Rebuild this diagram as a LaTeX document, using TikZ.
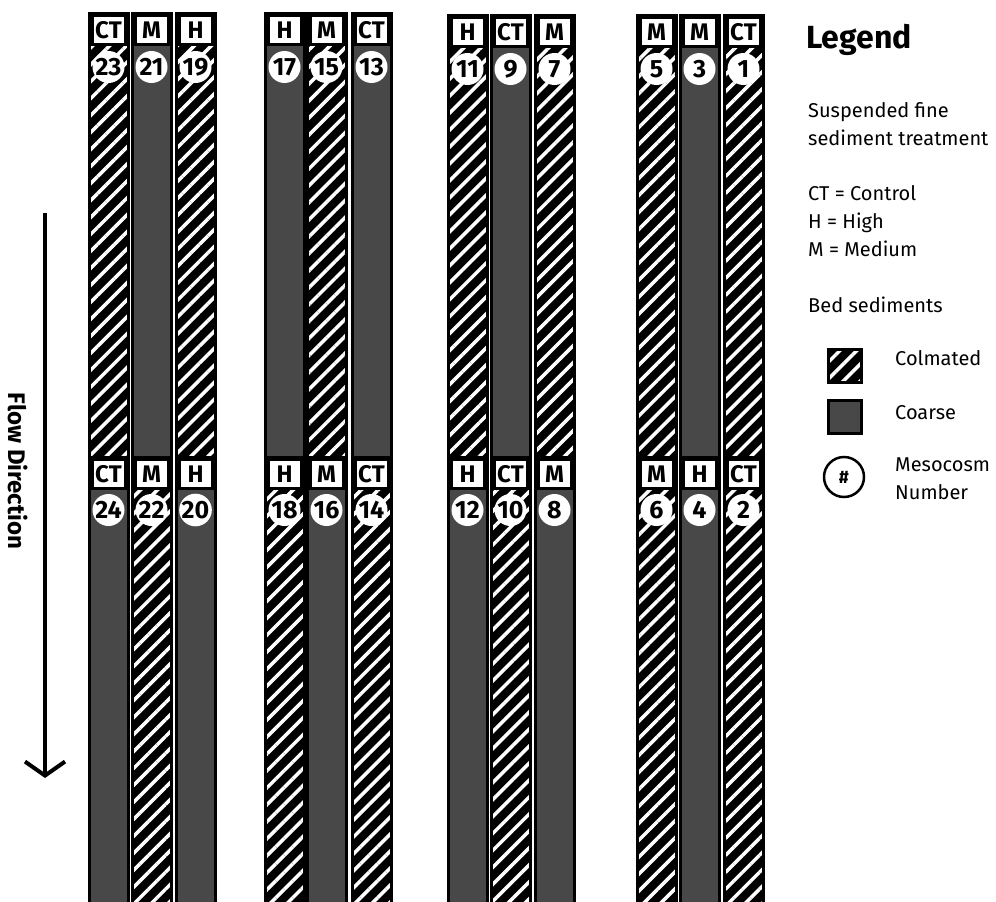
\documentclass[tikz,border=0pt]{standalone}
\usepackage{fontspec}
\setmainfont{Fira Sans}
\usetikzlibrary{arrows.meta, patterns.meta}
\definecolor{coarsegray}{RGB}{72,72,72}

\begin{document}
\begin{tikzpicture}[x=1pt, y=-1pt,
  lane/.style={draw=black, line width=3pt},
  coarse/.style={fill=coarsegray},
  colm/.style={preaction={fill=black}, pattern={Lines[angle=45,distance=12pt,line width=3.5pt]}, pattern color=white},
  tag/.style={fill=white, draw=black, line width=3pt, minimum width=33pt, minimum height=29pt, inner sep=0pt, font=\fontsize{24}{24}\selectfont\bfseries},
  num/.style={circle, fill=white, minimum size=32pt, inner sep=0pt, font=\fontsize{25}{25}\selectfont\bfseries},
  swatch/.style={draw=black, line width=3pt, minimum size=33pt, inner sep=0pt},
  legtext/.style={anchor=west, align=left, inner sep=0pt, font=\fontsize{20}{28}\selectfont}]
  \useasboundingbox (0,0) rectangle (996,902);
  \foreach \x/\t/\ta/\na/\fa/\tb/\nb/\fb in {
    89/13/CT/23/colm/CT/24/coarse, 132/13/M/21/coarse/M/22/colm, 176/13/H/19/colm/H/20/coarse,
    265/13/H/17/coarse/H/18/colm, 307/13/M/15/colm/M/16/coarse, 352/13/CT/13/coarse/CT/14/colm,
    448/15/H/11/colm/H/12/coarse, 491/15/CT/9/coarse/CT/10/colm, 535/15/M/7/colm/M/8/coarse,
    637/15/M/5/colm/M/6/colm, 680/15/M/3/coarse/H/4/coarse, 724/15/CT/1/colm/CT/2/colm}{
    \draw[lane,\fa] (\x,\t) rectangle (\x+39,457);
    \draw[lane,\fb] (\x,457) rectangle (\x+39,906);
    \node[tag] (tag\na) at (\x+19.5,\t+17) {\ta};
    \node[num] (num\na) at (\x+19.5,\t+54) {\na};
    \node[tag] (tag\nb) at (\x+19.5,474) {\tb};
    \node[num] (num\nb) at (\x+19.5,510) {\nb};
  }
  \coordinate (flowtop) at (45,213);
  \coordinate (flowtip) at (45,778);
  \draw[line width=4pt, -{Straight Barb[length=14pt,width=40pt]}] (flowtop) -- (flowtip);
  \node[rotate=-90, font=\fontsize{24}{24}\selectfont\bfseries] (flowlabel) at (18,471) {Flow Direction};
  \node[anchor=west, inner sep=0pt, font=\fontsize{32}{32}\selectfont\bfseries] (legtitle) at (806,40) {Legend};
  \node[legtext] (susp) at (808,124) {Suspended fine\\sediment treatment};
  \node[legtext] (codes) at (808,221) {CT = Control\\H = High\\M = Medium};
  \node[legtext] (bed) at (808,305) {Bed sediments};
  \node[swatch, colm] (colmkey) at (844.5,365.5) {};
  \node[legtext] (colmtext) at (895,358) {Colmated};
  \node[swatch, coarse] (coarsekey) at (844.5,417) {};
  \node[legtext] (coarsetext) at (895,413) {Coarse};
  \node[circle, draw=black, line width=2.5pt, minimum size=40pt, inner sep=0pt, font=\fontsize{18}{18}\selectfont\bfseries] (numkey) at (844,477) {\#};
  \node[legtext] (numtext) at (895,479) {Mesocosm\\Number};
\end{tikzpicture}
\end{document}
